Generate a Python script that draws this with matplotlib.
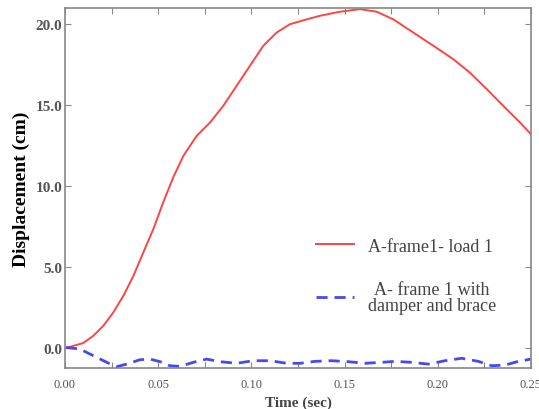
import matplotlib.pyplot as plt
from matplotlib.ticker import MultipleLocator

# Datos (tiempo en s, desplazamiento en cm)
t_marco = [0.0, 0.0045, 0.0098, 0.0152, 0.0206, 0.0259, 0.0313, 0.0367, 0.042, 0.0474,
           0.0527, 0.0581, 0.0635, 0.0706, 0.0778, 0.0849, 0.0921, 0.0992, 0.1064,
           0.1136, 0.1207, 0.1297, 0.1368, 0.1475, 0.1583, 0.1672, 0.1761, 0.1868,
           0.1976, 0.2083, 0.2173, 0.2262, 0.2351, 0.2441, 0.25]
d_marco = [-0.02, 0.14, 0.31, 0.76, 1.38, 2.2, 3.23, 4.46, 5.9, 7.35,
           9.0, 10.55, 11.87, 13.1, 13.93, 14.96, 16.2, 17.43, 18.67,
           19.49, 20.0, 20.3, 20.52, 20.77, 20.93, 20.77, 20.3, 19.49,
           18.67, 17.84, 17.0, 16.0, 14.96, 13.93, 13.2]

t_amort = [0.0005, 0.008, 0.0152, 0.0224, 0.0277, 0.0331, 0.0402, 0.0456, 0.051, 0.0563,
           0.0617, 0.0688, 0.076, 0.0832, 0.0921, 0.101, 0.11, 0.1189, 0.1261, 0.1341,
           0.1431, 0.152, 0.1609, 0.1699, 0.177, 0.186, 0.1949, 0.2039, 0.2128, 0.2217,
           0.2289, 0.2361, 0.2432, 0.25]
d_amort = [0.04, -0.06, -0.47, -0.88, -1.15, -0.99, -0.72, -0.68, -0.84, -1.09,
           -1.13, -0.88, -0.68, -0.84, -0.94, -0.78, -0.78, -0.94, -0.94, -0.82,
           -0.78, -0.84, -0.94, -0.88, -0.82, -0.88, -0.99, -0.78, -0.63, -0.82,
           -1.09, -1.05, -0.82, -0.68]

ticks_x = [0.0, 0.05, 0.10, 0.15, 0.20, 0.25]
ticks_y = [0, 5, 10, 15, 20]

plt.rcParams['font.family'] = ['Liberation Serif', 'DejaVu Serif']

fig = plt.figure(figsize=(5.39, 4.10), dpi=100)
ax = fig.add_axes([65 / 539, 1 - 369 / 410, 466 / 539, 360 / 410])

ax.plot(t_marco, d_marco, color='#ff4444', lw=1.4, label='A-frame1- load 1')
ax.plot(t_amort, d_amort, color='#4848f0', lw=2.0, dashes=(4, 2.5),
        label='A- frame 1 with\ndamper and brace')

ax.set_xlim(0, 0.25)
ax.set_ylim(-1.23, 21.0)
ax.set_xticks(ticks_x)
ax.set_xticklabels(['%.2f' % v for v in ticks_x])
ax.xaxis.set_minor_locator(MultipleLocator(0.025))
ax.set_yticks(ticks_y)
ax.set_yticklabels(['%.1f' % v for v in ticks_y])
ax.tick_params(which='both', direction='in', top=True, right=True,
               color='#888888', length=4, width=0.8)
ax.tick_params(axis='x', labelsize=9, labelcolor='#555555', pad=7)
ax.tick_params(axis='y', labelsize=11, labelcolor='#555555', pad=2)
for lbl in ax.get_yticklabels():
    lbl.set_fontweight('bold')
for s in ax.spines.values():
    s.set_color('#888888')
    s.set_linewidth(1.2)

ax.set_xlabel('Time (sec)', fontsize=11, fontweight='bold', color='#444444', labelpad=4)
ax.set_ylabel('Displacement (cm)', fontsize=14, fontweight='bold', labelpad=4)

leg = ax.legend(loc='upper left', bbox_to_anchor=(0.503, 0.407), frameon=False,
                fontsize=13, handlelength=2.1, handletextpad=0.8, labelspacing=1.45)
for tx in leg.get_texts():
    tx.set_multialignment('center')
    tx.set_linespacing(0.9)
    tx.set_color('#444444')

plt.savefig('out.png', dpi=100)
